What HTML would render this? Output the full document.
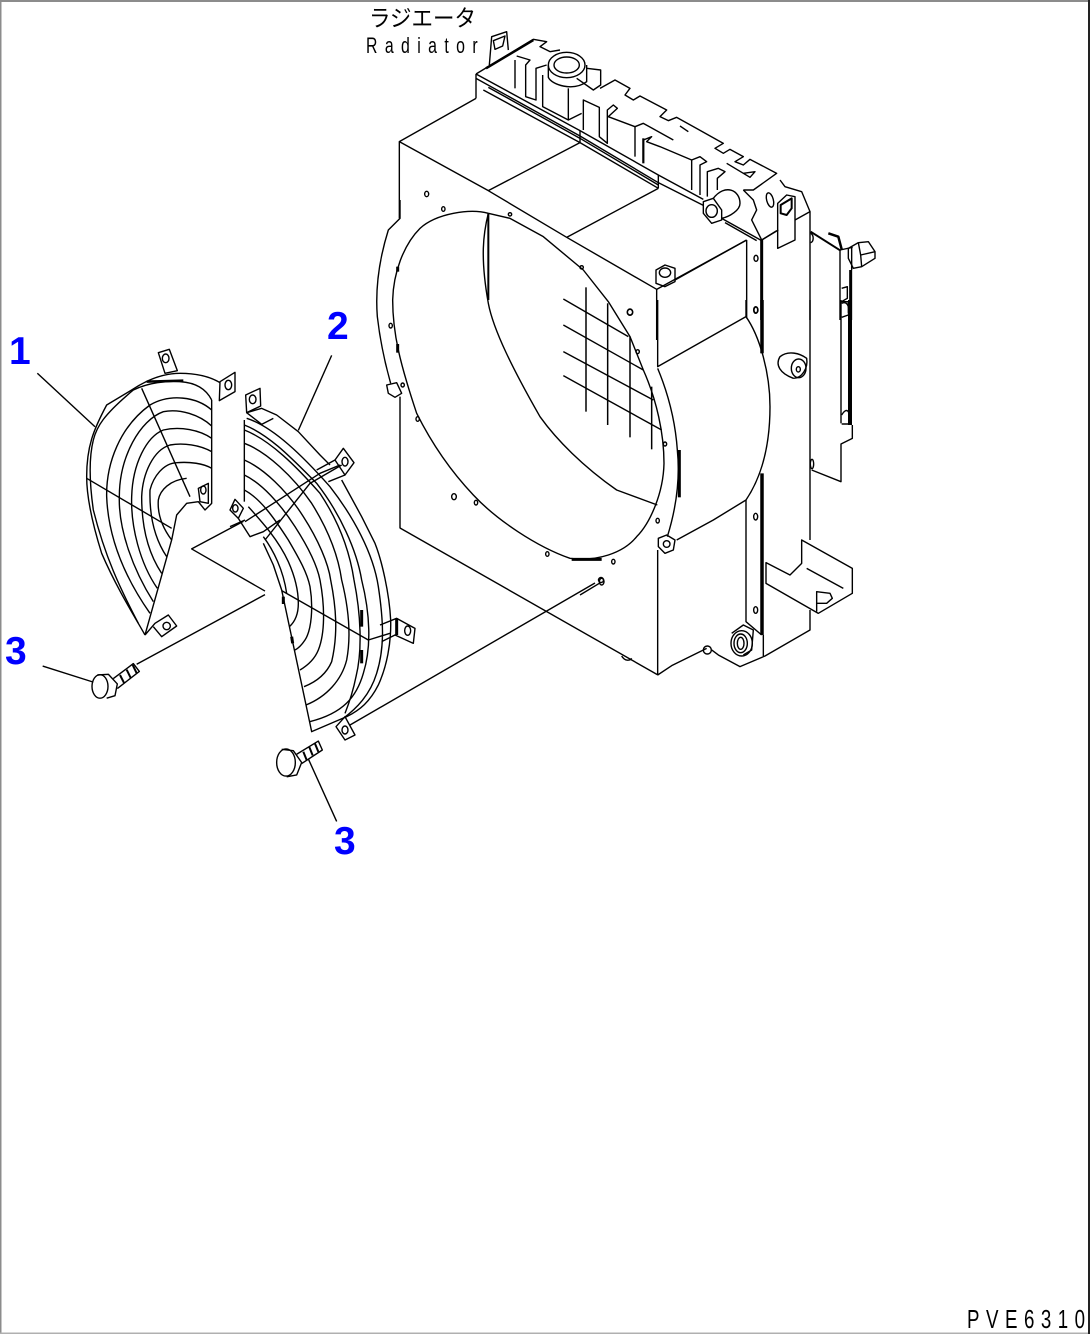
<!DOCTYPE html>
<html><head><meta charset="utf-8"><style>
html,body{margin:0;padding:0;background:#fff}
svg{display:block}
path,polyline,line,ellipse,circle,polygon{fill:none;stroke:#000;stroke-width:1.4;vector-effect:non-scaling-stroke;stroke-linejoin:round}
</style></head><body>
<svg xmlns="http://www.w3.org/2000/svg" width="1090" height="1334" viewBox="0 0 1090 1334">
<rect width="1090" height="1334" fill="#fff"/>
<rect x="0" y="0" width="1090" height="2" fill="#8c8c8c"/>
<rect x="0" y="0" width="1.5" height="1334" fill="#8c8c8c"/>
<rect x="0" y="1332.5" width="1090" height="1.5" fill="#b0b0b0"/>
<rect x="1088" y="0" width="2" height="1334" fill="#222"/>

<text x="369" y="26" font-family="'Liberation Sans','Noto Sans CJK JP',sans-serif" font-size="23" textLength="107" lengthAdjust="spacingAndGlyphs">ラジエータ</text>
<text transform="translate(366,53) scale(.72,1)" font-family="'Liberation Sans',sans-serif" font-size="22" textLength="155">Radiator</text>
<text transform="translate(967,1328) scale(.72,1)" font-family="'Liberation Sans',sans-serif" font-size="26" textLength="164">PVE6310</text>

<g font-family="'Liberation Sans',sans-serif" font-weight="bold" font-size="39" fill="#0000ff">
<text x="9" y="364">1</text>
<text x="327" y="339">2</text>
<text x="5" y="664">3</text>
<text x="334" y="854">3</text>
</g>

<!-- zoom 1 : radiator top -->
<g transform="translate(360,0) scale(.33333)">
<polyline points="118,655 118,425 348,295"/>
<polyline points="118,425 385,572 620,712 890,868 1160,720"/>
<line x1="385" y1="572" x2="660" y2="428"/>
<line x1="620" y1="712" x2="895" y2="565"/>
<polyline points="348,222 660,392 895,525 1030,598"/>
<polyline points="348,235 660,408 895,548 1030,616"/>
<polyline points="370,270 660,428 895,565"/>
<polyline points="385,262 660,415 895,555"/>
<line x1="348" y1="222" x2="348" y2="295"/>
<line x1="660" y1="392" x2="660" y2="428"/>
<line x1="895" y1="525" x2="895" y2="565"/>
<polyline points="1085,655 1205,722"/>
<polyline points="1095,668 1190,722"/>
<polyline points="388,195 395,110 440,95 445,150"/>
<polygon points="400,122 435,108 428,138 405,148"/>
<polyline points="348,222 520,118 560,125 540,140 570,155 600,150"/>
<line x1="378" y1="205" x2="520" y2="120" style="stroke-width:2.5"/>
<ellipse cx="620" cy="195" rx="55" ry="38"/>
<ellipse cx="620" cy="195" rx="38" ry="24"/>
<path d="M565,195 V232 C575,255 640,275 680,245 V195"/>
<polyline points="680,205 722,210 722,255 700,270 650,235"/>
<line x1="625" y1="265" x2="625" y2="360"/>
<polyline points="465,180 465,265"/>
<polyline points="470,168 510,180 497,195 497,290 528,300 528,205 560,195"/>
<polyline points="548,225 548,320 625,360 665,340"/>
<polyline points="670,390 670,300 718,322 718,410 742,430 742,330 760,315 772,325 745,350 825,380 850,370 940,420"/>
<line x1="825" y1="380" x2="825" y2="470"/>
<line x1="850" y1="415" x2="850" y2="490" style="stroke-width:2.2"/>
<polyline points="850,420 875,410 860,425 900,440 995,480 1020,470 1040,485 1020,495 1020,585"/>
<line x1="995" y1="480" x2="995" y2="570"/>
<polyline points="1042,590 1042,515 1075,505 1095,515 1072,535 1072,570"/>
<polyline points="720,265 765,240 810,265 795,285 820,300 840,288 920,330 900,350 925,362 950,352 1090,430 1065,445 1090,460 1110,448 1150,470 1125,485 1150,495 1170,478 1250,520 1180,570 1150,570"/>
<polyline points="1100,490 1150,520 1185,515 1170,532 1150,520"/>
<line x1="960" y1="378" x2="985" y2="395"/>
<polygon points="1030,605 1060,595 1085,630 1085,660 1055,670 1030,640"/>
<ellipse cx="1055" cy="633" rx="17" ry="19"/>
<path d="M1060,595 C1095,550 1140,570 1140,610 C1140,630 1110,650 1085,655"/>
<polyline points="1150,570 1180,600 1190,630 1175,660 1205,720 1255,690"/>
<line x1="1160" y1="720" x2="1160" y2="955"/>
<polygon points="888,810 915,795 945,805 945,845 915,860 888,850"/>
<ellipse cx="915" cy="818" rx="17" ry="14"/>
<line x1="945" y1="840" x2="1160" y2="720"/>
<line x1="890" y1="868" x2="890" y2="1020"/>
<ellipse cx="1188" cy="775" rx="6" ry="9"/>
<ellipse cx="1188" cy="930" rx="6" ry="9"/>
<ellipse cx="200" cy="582" rx="6" ry="8"/>
<ellipse cx="810" cy="936" rx="8" ry="9"/>
</g>

<!-- right upper corner -->
<g transform="translate(740,170) scale(.33333)">
<polyline points="120,30 135,50 185,65 210,125 165,150"/>
<polygon points="113,100 113,235 165,210 165,80 140,75"/>
<polygon points="122,105 155,85 155,115 140,135 122,130" style="stroke-width:2"/>
<ellipse cx="90" cy="90" rx="10" ry="22" transform="rotate(-15 90 90)"/>
<line x1="65" y1="210" x2="110" y2="182"/>
<line x1="210" y1="125" x2="210" y2="450"/>
<line x1="65" y1="210" x2="65" y2="450" style="stroke-width:3"/>
<line x1="212" y1="185" x2="302" y2="242" style="stroke-width:2"/>
<polyline points="265,190 295,200 305,238" style="stroke-width:2.5"/>
<polyline points="300,240 300,450"/>
<polyline points="300,240 338,232"/>
<line x1="335" y1="232" x2="335" y2="300"/>
<line x1="332" y1="300" x2="332" y2="450" style="stroke-width:3"/>
<polygon points="325,235 355,218 385,215 405,245 405,265 365,290 340,295 325,265"/>
<polyline points="355,218 362,255 365,290"/>
<line x1="362" y1="255" x2="405" y2="245"/>
<polyline points="305,355 322,350 322,385 305,395 325,395 325,430"/>
<path d="M212,190 C222,195 222,215 212,218"/>
</g>

<!-- zoom 5 : fan ring -->
<g transform="translate(370,200) scale(.33333)">
<path d="M355,40 C300,25 200,40 150,85 C100,135 70,220 68,300 C68,400 90,490 140,640 C170,700 220,790 310,885 C380,960 500,1040 600,1075 C680,1085 760,1060 800,1010 C840,970 880,880 882,790 C882,700 860,600 820,510 L780,410 L715,305 L640,210 L520,110 L420,55 Z"/>
<path d="M355,40 C340,100 330,170 355,310 C370,390 430,510 510,650 C560,720 640,800 740,870 L862,915"/>
<line x1="355" y1="40" x2="355" y2="300" style="stroke-width:2"/>
<path d="M90,0 V55 L55,90 C30,170 15,260 22,350 C30,420 45,490 62,550"/>
<polyline points="90,590 90,985"/>
<polygon points="50,555 80,548 95,580 75,592 55,580"/>
<line x1="648" y1="262" x2="648" y2="635" style="stroke-width:1.5"/>
<line x1="713" y1="310" x2="713" y2="675" style="stroke-width:1.5"/>
<line x1="780" y1="410" x2="780" y2="712" style="stroke-width:1.5"/>
<line x1="845" y1="560" x2="845" y2="748" style="stroke-width:1.5"/>
<line x1="580" y1="297" x2="775" y2="410"/>
<line x1="580" y1="375" x2="820" y2="510"/>
<line x1="580" y1="455" x2="850" y2="600"/>
<line x1="580" y1="527" x2="875" y2="690"/>
<line x1="605" y1="1078" x2="695" y2="1078" style="stroke-width:3"/>
<line x1="83" y1="200" x2="83" y2="215" style="stroke-width:3"/>
<line x1="83" y1="432" x2="83" y2="458" style="stroke-width:3"/>
<ellipse cx="780" cy="337" rx="8" ry="9"/>
<ellipse cx="252" cy="890" rx="7" ry="9"/>
<ellipse cx="220" cy="27" rx="5" ry="7"/>
<ellipse cx="62" cy="377" rx="5" ry="7"/>
<ellipse cx="143" cy="657" rx="5" ry="7"/>
<ellipse cx="318" cy="908" rx="5" ry="7"/>
<ellipse cx="532" cy="1062" rx="5" ry="7"/>
<ellipse cx="730" cy="1085" rx="5" ry="7"/>
<ellipse cx="863" cy="962" rx="5" ry="7"/>
<ellipse cx="803" cy="455" rx="5" ry="6"/>
<ellipse cx="98" cy="555" rx="5" ry="6"/>
<ellipse cx="420" cy="43" rx="5" ry="5"/>
<ellipse cx="635" cy="202" rx="5" ry="5"/>
<ellipse cx="885" cy="732" rx="5" ry="6"/>
</g>
<line x1="400" y1="528" x2="658" y2="675"/>

<!-- zoom 3 : radiator lower right -->
<g transform="translate(580,300) scale(.33333)">
<polyline points="233,0 233,200 498,50"/>
<path d="M233,205 C260,270 285,350 292,450 C300,530 290,620 262,710"/>
<line x1="298" y1="450" x2="298" y2="592" style="stroke-width:3"/>
<path d="M498,50 C540,110 570,220 570,320 C570,440 545,530 498,600"/>
<polyline points="290,720 400,660 498,600"/>
<line x1="233" y1="750" x2="233" y2="1125"/>
<polyline points="233,1125 275,1097 380,1045"/>
<line x1="498" y1="0" x2="498" y2="50"/>
<polyline points="498,600 498,965 545,1005"/>
<line x1="546" y1="0" x2="546" y2="160" style="stroke-width:3.5"/>
<line x1="546" y1="520" x2="546" y2="1005" style="stroke-width:3.5"/>
<line x1="550" y1="1005" x2="550" y2="1068"/>
<line x1="690" y1="0" x2="690" y2="720"/>
<polyline points="695,510 783,545 783,432 817,415 817,375"/>
<line x1="810" y1="0" x2="810" y2="375" style="stroke-width:4"/>
<line x1="783" y1="0" x2="783" y2="370"/>
<path d="M785,345 C800,320 812,330 808,372 L785,372"/>
<path d="M785,10 C805,0 810,30 805,45 L785,52"/>
<path d="M640,235 C600,220 585,195 600,170 C625,150 660,160 680,175 C685,205 665,235 640,235"/>
<ellipse cx="656" cy="205" rx="22" ry="28"/>
<ellipse cx="655" cy="208" rx="6" ry="8"/>
<polygon points="665,720 817,805 817,880 715,940 558,850 558,788 630,825 665,790"/>
<line x1="680" y1="805" x2="790" y2="865"/>
<polyline points="710,935 710,875 750,880 757,895 740,910 710,910"/>
<polyline points="690,930 690,990 555,1068 480,1100 415,1065 395,1050"/>
<ellipse cx="485" cy="1030" rx="32" ry="38"/>
<ellipse cx="482" cy="1030" rx="20" ry="28"/>
<ellipse cx="482" cy="1030" rx="10" ry="18"/>
<polyline points="455,1000 490,975 520,990 515,1050 490,1065"/>
<ellipse cx="382" cy="1050" rx="12" ry="12"/>
<path d="M125,1068 C135,1085 150,1082 155,1075"/>
<polygon points="260,705 285,720 280,750 255,760 235,740 235,715"/>
<circle cx="260" cy="732" r="10"/>
<ellipse cx="527" cy="30" rx="6" ry="10"/>
<ellipse cx="527" cy="650" rx="6" ry="10"/>
<ellipse cx="527" cy="930" rx="6" ry="10"/>
<ellipse cx="65" cy="845" rx="7" ry="10"/>
<line x1="0" y1="885" x2="58" y2="850"/>
<ellipse cx="696" cy="492" rx="5" ry="14"/>
</g>
<line x1="350" y1="725" x2="595" y2="583"/>
<circle cx="601" cy="580" r="2.5"/>

<!-- fan 1 -->
<g transform="translate(70,340) scale(.33333)">
<path d="M225,885 C200,840 140,745 95,640 C70,560 50,480 50,410 C50,320 70,270 110,195 L185,150 C230,120 280,100 330,100 C380,100 420,110 450,128"/>
<path d="M205,850 C150,745 105,650 70,510 C60,440 55,360 70,300 C80,260 100,225 190,150 C235,128 290,122 330,125 C380,128 410,150 425,180"/>
<path d="M240,820 C170,720 115,600 110,470 C108,370 150,260 240,195 C300,160 380,170 425,210"/>
<path d="M250,785 C190,690 145,570 148,470 C148,350 210,240 280,215 C330,205 390,225 425,258"/>
<path d="M262,745 C210,670 182,560 185,470 C188,370 230,290 280,270 C330,258 390,270 425,295"/>
<path d="M275,700 C235,640 215,560 215,470 C218,400 250,330 300,315 C340,308 390,315 425,335"/>
<path d="M290,650 C250,590 238,520 240,450 C250,410 280,370 320,368 C360,365 400,370 425,385"/>
<path d="M305,600 C275,560 262,520 265,480 C270,450 300,420 350,415"/>
<polyline points="425,180 425,490 405,510 385,485 350,490 320,525 305,600 225,885"/>
<line x1="215" y1="145" x2="360" y2="470"/>
<line x1="50" y1="415" x2="305" y2="565"/>
<line x1="230" y1="125" x2="340" y2="122" style="stroke-width:2.5"/>
<polygon points="265,38 298,28 322,92 285,100"/>
<ellipse cx="287" cy="55" rx="10" ry="13"/>
<polygon points="450,125 495,97 495,155 448,182"/>
<ellipse cx="475" cy="135" rx="10" ry="14"/>
<polygon points="385,445 415,430 415,490 390,485"/>
<ellipse cx="400" cy="450" rx="8" ry="12"/>
<polyline points="225,885 255,850 295,825 320,858 275,890 250,860"/>
<ellipse cx="290" cy="858" rx="11" ry="11"/>
</g>

<!-- fan 2 -->
<g transform="translate(230,380) scale(.33333)">
<polygon points="47,45 90,25 92,78 50,98"/>
<ellipse cx="68" cy="58" rx="10" ry="13"/>
<line x1="43" y1="120" x2="43" y2="365"/>
<path d="M50,98 L95,85 L140,105 L205,155 L270,225 L300,255"/>
<path d="M335,300 L395,410 L435,490 C455,540 478,640 482,720 C484,790 470,860 445,915 C420,965 390,990 350,1010 L245,1055 L155,630 L130,555 L100,490"/>
<polyline points="50,98 95,133 130,115"/>
<path d="M50,115 C130,140 220,230 300,320 C370,410 430,520 445,620 C460,720 465,800 440,880 C420,945 380,985 340,1015"/>
<path d="M43,135 C120,165 190,240 260,310 C330,400 380,510 395,600 C420,700 425,800 400,880 C380,950 340,1000 239,1025"/>
<path d="M43,150 C120,180 200,260 270,340 C330,430 360,520 372,600 C392,700 398,810 378,890 C368,940 355,975 345,1000"/>
<path d="M43,190 C110,215 190,290 245,370 C295,450 325,530 335,600 C355,680 365,760 350,840 C335,900 290,950 228,975"/>
<path d="M43,240 C100,265 170,330 220,410 C265,480 295,550 302,600 C318,680 325,760 305,845 C290,880 260,905 222,920"/>
<path d="M43,285 C95,310 150,370 195,440 C240,510 262,560 270,600 C285,680 285,760 265,810 C255,835 235,855 210,870"/>
<path d="M43,330 C90,355 130,410 175,480 C210,540 232,580 240,620 C250,680 245,750 225,780 C215,795 205,805 195,810"/>
<path d="M55,380 C100,430 145,480 175,545 C195,590 205,630 205,670 C205,700 195,725 178,740"/>
<path d="M100,470 C130,510 160,570 170,640"/>
<polyline points="45,425 270,280 330,255"/>
<polyline points="105,480 240,310 335,255"/>
<polyline points="260,270 315,240"/>
<polyline points="295,305 345,285"/>
<polygon points="315,240 340,205 372,248 345,285"/>
<ellipse cx="345" cy="245" rx="9" ry="13"/>
<polygon points="0,390 15,358 40,385 25,415"/>
<ellipse cx="16" cy="385" rx="8" ry="11"/>
<polyline points="25,415 60,470 100,455 150,420"/>
<line x1="0" y1="440" x2="45" y2="420"/>
<polyline points="155,632 415,780 480,760"/>
<polyline points="450,735 500,715 555,745 550,790 495,765 455,785"/>
<line x1="500" y1="715" x2="500" y2="765" style="stroke-width:3"/>
<ellipse cx="533" cy="752" rx="9" ry="14"/>
<polygon points="318,1040 345,1010 375,1065 345,1080"/>
<ellipse cx="345" cy="1050" rx="9" ry="12"/>
<line x1="395" y1="690" x2="395" y2="740" style="stroke-width:3"/>
<line x1="395" y1="810" x2="395" y2="850" style="stroke-width:3"/>
<line x1="160" y1="650" x2="160" y2="672" style="stroke-width:3"/>
<line x1="185" y1="770" x2="188" y2="790" style="stroke-width:3"/>
</g>

<!-- leaders and bolts (x 1/3, y 1/2.8) -->
<g transform="translate(0,300) scale(.33333,.35714)">
<line x1="112" y1="205" x2="285" y2="355"/>
<line x1="995" y1="155" x2="895" y2="365"/>
<line x1="128" y1="1025" x2="280" y2="1070"/>
<line x1="925" y1="1285" x2="1010" y2="1460"/>
<polyline points="730,620 575,697 795,815"/>
<line x1="795" y1="825" x2="410" y2="1020"/>
<ellipse cx="300" cy="1082" rx="24" ry="33"/>
<polyline points="292,1050 325,1048 352,1075 345,1108 320,1115"/>
<polyline points="340,1060 400,1018 418,1040 352,1088"/>
<line x1="360" y1="1050" x2="372" y2="1072" style="stroke-width:2"/>
<line x1="380" y1="1035" x2="392" y2="1058" style="stroke-width:2"/>
<line x1="398" y1="1022" x2="410" y2="1045" style="stroke-width:2"/>
<ellipse cx="858" cy="1295" rx="28" ry="38"/>
<polyline points="845,1258 880,1262 905,1295 890,1330 860,1335"/>
<polyline points="890,1272 955,1235 967,1260 905,1298"/>
<line x1="910" y1="1265" x2="920" y2="1288" style="stroke-width:2"/>
<line x1="928" y1="1252" x2="938" y2="1275" style="stroke-width:2"/>
<line x1="945" y1="1242" x2="955" y2="1265" style="stroke-width:2"/>
</g>
</svg>
</body></html>
